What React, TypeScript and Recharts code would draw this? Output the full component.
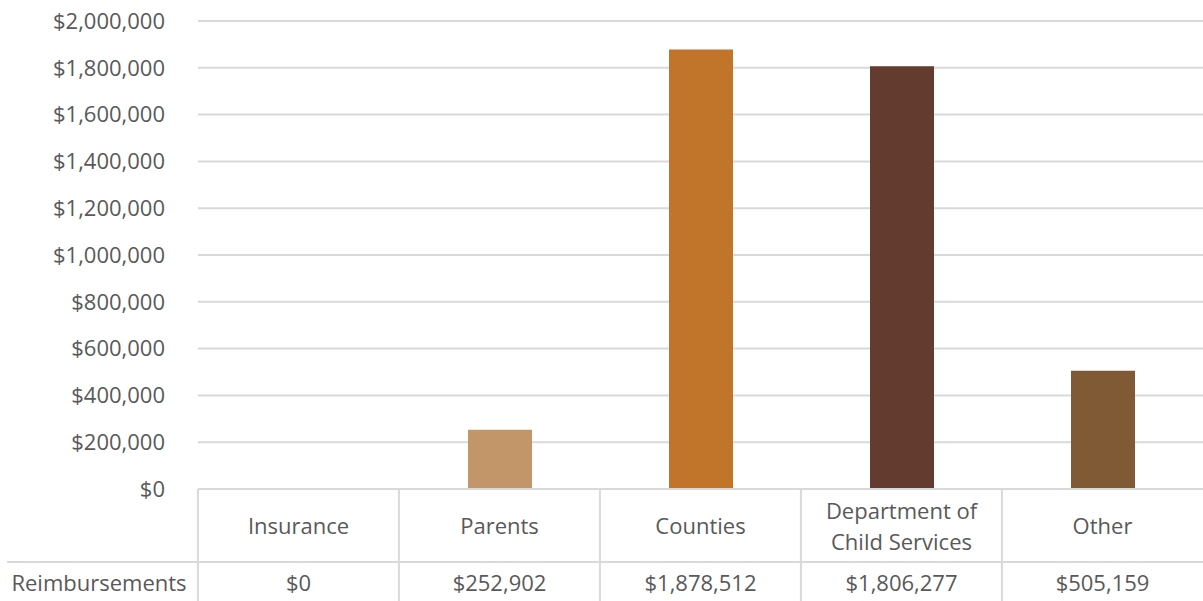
import { BarChart, Bar, XAxis, YAxis, CartesianGrid, Cell } from "recharts";

const categories = ["Insurance", "Parents", "Counties", "Department of Child Services", "Other"];
const reimbursements = [0, 252902, 1878512, 1806277, 505159];
const yTicks = [0, 200000, 400000, 600000, 800000, 1000000, 1200000, 1400000, 1600000, 1800000, 2000000];
const seriesName = "Reimbursements";

const colors = ["#C39669", "#C39669", "#C0752A", "#633B2F", "#805A35"];
const FONT = "'Open Sans', 'DejaVu Sans', sans-serif";
const FS = 22;
const TEXT = "#595959";
const LINE = "#D9D9D9";

const data = categories.map((name, i) => ({ name, value: reimbursements[i] }));

const money = (v: number) => "$" + v.toLocaleString("en-US");

// greedy word wrap, Excel-style
function wrap(s: string, max: number) {
  const lines: string[] = [];
  let cur = "";
  for (const w of s.split(" ")) {
    const next = cur ? cur + " " + w : w;
    if (next.length > max && cur) {
      lines.push(cur);
      cur = w;
    } else cur = next;
  }
  if (cur) lines.push(cur);
  return lines;
}

const BAND = 1006 / categories.length;

function TableTick(props: any) {
  const { x, y, payload } = props;
  const idx = payload.index;
  const lines = wrap(payload.value, 14);
  const labelMid = y + 36;
  const lh = 31;
  const left = x - BAND / 2;
  return (
    <g>
      <line x1={left} x2={left} y1={y} y2={601} stroke={LINE} strokeWidth={2} />
      {idx === 0 && (
        <>
          <line x1={7} x2={1203} y1={y + 73} y2={y + 73} stroke={LINE} strokeWidth={2} />
          <text x={99} y={y + 93} textAnchor="middle" dominantBaseline="central" fill={TEXT} fontSize={FS} fontFamily={FONT}>
            {seriesName}
          </text>
        </>
      )}
      <text x={x} y={labelMid} textAnchor="middle" fill={TEXT} fontSize={FS} fontFamily={FONT}>
        {lines.map((l, i) => (
          <tspan key={i} x={x} y={labelMid + (i - (lines.length - 1) / 2) * lh} dominantBaseline="central">
            {l}
          </tspan>
        ))}
      </text>
      <text x={x} y={y + 93} textAnchor="middle" dominantBaseline="central" fill={TEXT} fontSize={FS} fontFamily={FONT}>
        {money(reimbursements[idx])}
      </text>
    </g>
  );
}

export default function App() {
  return (
    <div style={{ position: "absolute", left: 0, top: 0, background: "#fff" }}>
      <BarChart width={1203} height={601} data={data} margin={{ top: 21, right: 0, left: 1, bottom: 0 }}>
        <CartesianGrid vertical={false} stroke={LINE} strokeWidth={2} />
        <YAxis
          width={197}
          domain={[0, 2000000]}
          ticks={yTicks}
          tickFormatter={money}
          axisLine={false}
          tickLine={false}
          tickSize={0}
          tickMargin={33}
          tick={{ fill: TEXT, fontSize: FS, fontFamily: FONT }}
          interval={0}
        />
        <XAxis
          dataKey="name"
          height={112}
          interval={0}
          tickLine={false}
          tickSize={0}
          tickMargin={0}
          axisLine={{ stroke: LINE, strokeWidth: 2 }}
          tick={<TableTick />}
        />
        <Bar dataKey="value" barSize={64} isAnimationActive={false}>
          {data.map((d, i) => (
            <Cell key={d.name} fill={colors[i]} />
          ))}
        </Bar>
      </BarChart>
    </div>
  );
}
